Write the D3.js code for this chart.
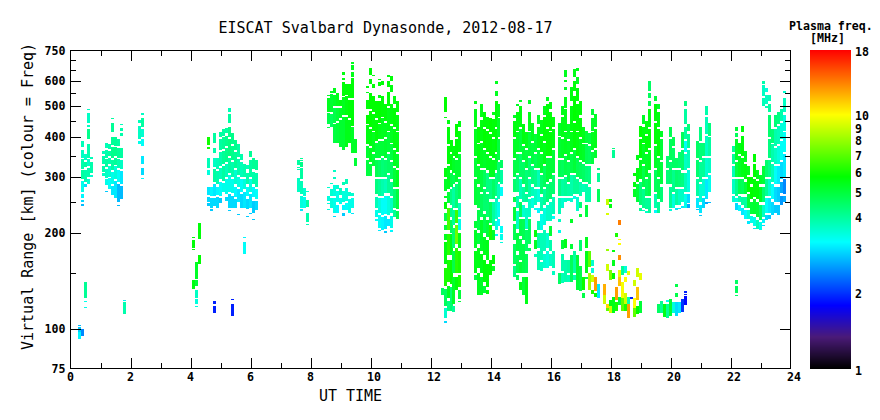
<!DOCTYPE html>
<html><head><meta charset="utf-8">
<script src="https://cdn.jsdelivr.net/npm/d3@7/dist/d3.min.js"></script>
<style>
html,body{margin:0;padding:0;background:#fff}
svg{display:block}
text{fill:#000;font-family:"DejaVu Sans Mono","Liberation Mono",monospace}
.tk{font-size:11.6px;font-weight:bold}
.lb{font-size:15px}
</style></head><body><svg id="c" width="880" height="420"></svg>
<script>
const chartTitle="EISCAT Svalbard Dynasonde, 2012-08-17";
const xLabel="UT TIME";
const yLabel="Virtual Range [km] (colour = Freq)";
const legendTitle=["Plasma freq.","[MHz]"];
const yMajor=[75,100,200,300,400,500,600,750];
const yMinor=[150,250,350,450,550,650,700];
const xMajor=[0,2,4,6,8,10,12,14,16,18,20,22,24];
const xMinor=[1,3,5,7,9,11,13,15,17,19,21,23];
const cbTicks=[1,2,3,4,5,6,7,8,9,10,18];
const cKnots=[1,1.33,1.77,3.15,4.2,5.7,10,18];
const cColors=["#000000","#4a1a78","#0000ff","#00ffff","#00ff80","#00ff00","#ffff00","#ff0000"];
// each column: hour, then triples (upper km, lower km, MHz)
const burstA=[
[0.3,103,102,2.7,101,98,2.8,98,93,3.1],
[0.4,390,372,3.7,365,345,3.6,342,318,3.8,316,296,3.9,292,270,3.3,265,258,3.1,254,250,2.9,246,243,2.7,100,95,2.4],
[0.5,355,340,3.6,335,322,3.9,316,290,3.8,286,280,2.9,140,125,4.0,122,121,3.3,117,116,3.3],
[0.6,490,486,3.6,478,445,3.6,437,430,3.6,425,395,4.1,380,345,3.8,342,325,3.6,320,300,3.8,296,286,3.5],
[0.7,347,343,3.7,334,308,3.8,305,301,3.5]];
const burstB=[
[1.1,362,355,3.7,350,330,3.8,326,312,3.8,309,303,3.6],
[1.2,385,370,3.7,365,345,3.8,342,322,3.9,318,298,3.6,295,283,3.3,271,269,2.8],
[1.3,380,368,3.8,362,350,3.9,345,330,3.8,326,300,3.5,298,276,3.2],
[1.4,460,456,3.9,445,415,4.0,400,378,4.0,372,345,4.1,340,315,3.9,312,285,3.3,282,263,3.0],
[1.5,400,376,4.0,372,350,4.1,345,328,4.0,325,296,3.4,292,258,3.0],
[1.6,395,375,3.9,370,345,4.0,342,320,3.8,316,290,3.2,286,250,2.7,245,243,2.7],
[1.7,440,436,3.7,428,420,3.8,412,404,3.8,370,345,3.9,340,318,3.6,314,285,3.0,282,256,2.7],
[1.8,123,122,3.1,121,111,3.8],
[2.3,453,445,3.7,435,395,3.6,390,380,3.3],
[2.4,478,470,3.6,460,430,3.9,425,400,3.5,395,375,3.2,350,330,3.0,320,305,2.9,297,296,3.1]];
const burstC=[
[4.1,195,193,5.6,190,180,5.6,178,177,5.6,142,133,5.5],
[4.2,162,143,5.2,142,136,5.0,132,125,3.6,124,120,3.4,118,117,3.4],
[4.3,215,192,5.6,170,160,5.7],
[4.6,400,378,5.9,374,368,5.9,345,320,3.7,315,304,3.4,280,263,3.0,260,250,2.9,248,243,2.8],
[4.7,280,262,3.1,258,240,2.9,238,235,2.8],
[4.8,412,385,3.9,370,358,3.8,345,322,3.6,318,290,3.9,285,262,3.0,258,243,2.9,122,120,1.9,118,112,1.9],
[4.9,345,318,3.7,314,285,3.8,280,264,3.1,260,240,2.9],
[5.0,416,400,3.9,395,365,3.9,360,325,3.8,320,296,3.7,290,262,3.2,258,248,2.8],
[5.1,425,405,3.9,400,368,4.0,362,330,4.0,326,292,3.9,288,270,3.3],
[5.2,428,412,3.9,405,375,4.1,370,335,4.1,330,300,3.7,296,265,3.3,260,252,2.9],
[5.3,495,480,3.7,475,445,3.9,430,400,4.1,396,350,4.2,345,310,3.9,305,270,3.3,265,240,2.9,236,234,2.8],
[5.4,412,380,4.1,376,340,4.1,335,300,3.8,296,268,3.3,262,240,2.9,124,123,1.9,120,110,1.9],
[5.5,392,365,4.1,360,320,4.0,316,285,3.5,280,260,3.1,255,240,2.9],
[5.6,380,348,3.9,342,305,3.8,300,280,3.4,275,250,3.0,230,228,2.8],
[5.7,355,340,3.8,335,300,3.7,295,270,3.2,265,240,2.9],
[5.8,330,300,3.8,296,275,3.4,270,240,3.0,195,194,3.1,188,187,3.1,186,172,3.2],
[5.9,328,318,3.7,310,285,3.8,280,262,3.2,255,238,2.9,226,224,2.8],
[6.0,362,346,4.0,340,300,3.9,296,270,3.4,265,240,3.0,232,230,2.8],
[6.1,345,318,4.0,312,285,3.8,280,260,3.1,252,232,2.8,222,220,2.8],
[6.2,340,315,4.0,310,280,3.8,275,256,3.2,252,236,2.9]];
const burstD=[
[7.6,340,327,3.9,322,321,3.8,318,316,3.7,298,270,3.6],
[7.7,345,344,4.0,340,338,4.0,334,322,4.1,320,295,3.9,292,265,3.7,262,240,3.4,238,235,3.0],
[7.8,278,262,3.5,260,240,3.3],
[7.9,272,271,3.6,254,242,3.9,232,217,3.8,214,213,3.7]];
const burstE=[
[8.6,545,540,5.2,530,480,5.3,476,440,4.8,432,428,4.7,280,278,3.5,262,252,3.4,248,247,3.4,238,236,3.4],
[8.7,560,552,5.3,548,480,5.1,475,432,4.6,288,285,3.6,276,262,3.5,258,240,3.4],
[8.8,570,550,5.4,545,500,5.2,495,445,4.8,440,385,4.9,315,312,3.6,300,296,3.6,284,262,3.4,258,232,3.3,226,224,2.9],
[8.9,552,500,5.4,495,450,5.0,445,385,5.0,284,276,3.5,272,250,3.3,245,232,3.1],
[9.0,525,500,5.5,495,460,5.2,455,372,5.1,278,264,3.6,258,246,3.3],
[9.1,640,630,5.5,615,605,5.4,595,540,5.6,535,470,5.3,465,364,5.1,290,284,3.7,272,250,3.4,245,236,3.1,232,226,2.8],
[9.2,590,545,5.6,540,470,5.5,465,372,5.4,295,285,3.7,278,252,3.4,248,236,3.2],
[9.3,590,530,5.6,525,460,5.6,455,384,5.4,270,262,3.5,256,232,3.3],
[9.4,690,680,5.3,675,650,5.3,640,620,5.4,615,530,5.6,525,435,5.6,430,357,5.2,268,262,3.5,258,240,3.3,232,231,3.0],
[9.5,395,357,5.2,345,325,5.0]];
const burstF=[
[9.9,578,572,5.5,555,550,5.4,523,490,5.6,470,440,5.7,436,380,5.5,375,345,5.1,340,303,4.9],
[10.0,660,630,5.6,610,590,5.6,550,490,5.7,485,430,5.7,425,375,5.5,370,335,5.3,330,303,4.9],
[10.1,630,625,5.5,590,570,5.6,540,480,5.7,475,420,5.6,415,360,5.3,355,325,5.0],
[10.2,520,460,5.7,455,390,5.6,385,345,5.0,340,300,4.7,296,265,4.2,260,240,3.7,236,225,3.3,222,218,3.2],
[10.3,610,608,5.5,595,580,5.6,545,530,5.5,520,445,5.7,440,395,5.4,390,345,5.0,340,300,4.5,296,262,4.0,258,232,3.4,228,207,3.2,205,203,3.0],
[10.4,600,585,5.6,540,465,5.6,460,395,5.3,390,350,5.0,345,300,4.3,296,262,3.8,258,228,3.2,224,204,3.1],
[10.5,510,450,5.6,445,400,5.3,395,345,5.1,340,300,4.4,295,268,3.7,262,230,3.2,226,206,3.0,203,200,2.8],
[10.6,630,620,5.5,600,575,5.6,555,500,5.6,495,420,5.4,415,360,5.0,355,310,4.5,305,268,4.0,262,228,3.4,222,210,3.0],
[10.7,625,600,5.6,585,555,5.5,510,440,5.5,435,385,5.3,380,340,4.9,335,295,4.6,290,262,4.1,258,232,3.6,226,208,3.3,204,202,3.1],
[10.8,540,510,5.5,495,430,5.6,425,370,5.5,365,325,5.3,320,280,5.0,275,240,4.4,236,225,4.0],
[10.9,520,480,5.6,470,420,5.5,415,360,5.5,355,320,5.2,315,280,5.3,275,238,4.9,235,222,4.7]];
const burstG=[
[12.4,134,128,4.6],
[12.5,535,480,5.7,465,462,5.5,320,300,5.5,295,272,5.2,262,258,5.3,250,238,5.6,232,218,4.8,212,204,5.0,198,190,5.3,188,160,5.5,155,136,6.0,133,118,4.6,116,108,3.5,106,104,2.9],
[12.6,455,440,5.5,430,380,5.6,375,330,5.6,325,275,5.3,270,248,5.0,240,205,6.6,198,170,6.2,165,140,6.0,136,125,5.3,122,114,4.2],
[12.7,392,360,5.6,355,315,5.5,310,280,4.8,275,245,4.2,240,225,4.2,220,200,4.6,198,170,5.4,165,138,5.8,135,114,4.4],
[12.8,375,350,5.5,345,310,5.2,305,285,4.7,280,240,3.9,236,212,4.0,208,180,4.4,176,150,4.8,145,120,5.2,118,113,4.0],
[12.9,440,400,5.7,395,345,5.6,340,290,5.1,285,240,4.3,236,215,6.5,212,185,7.2,180,150,6.2,145,132,5.6],
[13.0,450,430,5.5,420,360,5.5,355,300,5.1,296,255,4.6,248,225,3.7,222,205,3.3,200,180,5.4,175,150,6.0,148,135,6.0,132,124,5.0,122,121,5.0]];
const burstH=[
[13.5,520,508,5.4,490,430,5.4,425,350,5.3,345,300,5.0,295,245,5.0,218,208,5.0,204,180,5.2,175,150,5.4,148,142,4.9],
[13.6,430,385,5.6,380,330,5.5,325,285,5.1,280,240,4.9,236,205,4.8,200,185,4.9,180,155,5.4,150,128,5.3],
[13.7,510,465,5.4,455,390,5.5,385,320,5.3,315,270,4.9,265,225,4.6,220,175,5.2,172,150,5.4,146,128,5.2],
[13.8,480,430,5.6,425,370,5.7,365,320,5.2,315,280,4.6,275,235,4.4,230,200,4.8,195,170,5.3,165,140,5.6,136,130,5.0],
[13.9,465,425,5.6,420,360,5.6,355,315,5.3,310,270,4.2,265,225,4.4,220,195,5.0,190,165,5.4,160,135,5.6,132,129,5.6],
[14.0,460,415,5.7,410,350,5.6,345,300,5.3,295,255,4.2,250,215,4.6,212,190,6.0,165,148,5.6],
[14.1,480,470,5.4,458,400,5.6,395,345,5.5,340,300,5.3,295,255,4.5,250,210,3.9,205,190,5.2,170,160,5.6,158,152,5.2],
[14.2,600,590,5.3,560,540,5.3,520,430,5.6,425,360,5.6,355,315,5.2,310,262,4.2,258,222,3.6,218,205,3.4,198,196,3.2],
[14.3,510,465,5.4,460,400,5.2,395,340,4.9,335,290,4.4,285,255,3.7,250,225,3.3,222,210,3.1],
[14.4,340,320,4.5,315,285,3.9,280,262,3.2,210,200,3.2,198,190,3.3,188,186,3.4]];
const burstI=[
[14.8,470,460,5.2,450,400,5.5,395,345,5.2,340,300,4.8,295,270,4.4,260,250,4.8,242,218,5.0,214,190,4.7,185,160,4.6,158,145,4.2],
[14.9,510,500,5.2,480,420,5.5,415,360,5.2,355,310,4.8,305,270,4.2,262,240,3.8,235,206,3.6,200,175,4.9,170,150,4.7,148,142,4.6],
[15.0,525,515,5.2,500,430,5.5,425,360,5.0,355,300,4.5,295,255,3.7,250,225,4.6,222,196,4.8,192,165,4.8,162,150,5.0,140,132,5.4],
[15.1,440,380,5.5,375,340,5.0,335,285,4.5,280,250,3.9,245,225,3.5,222,190,4.7,185,150,4.8,146,128,5.0],
[15.2,415,370,5.4,365,320,4.9,315,270,4.3,265,250,4.0,240,206,3.6,204,176,4.5,172,150,4.7,146,120,5.4],
[15.3,525,510,5.2,480,420,5.4,415,350,5.0,345,300,4.4,295,260,3.9,255,225,3.6,222,185,4.6,180,175,4.6],
[15.4,445,390,5.3,385,330,4.9,325,285,4.2,280,262,3.7,258,240,3.4],
[15.5,410,360,5.0,355,320,4.7,315,280,4.1,275,245,3.6,240,236,3.2,204,195,5.6,190,178,5.2,172,168,3.7],
[15.6,470,440,5.2,432,370,5.3,365,320,4.9,315,280,3.7,275,250,3.4,240,232,3.1,218,205,3.8,200,180,3.9,175,153,3.8],
[15.7,455,410,5.4,405,360,5.5,355,310,5.1,305,265,4.4,260,235,3.8,230,205,3.3,200,165,3.7,162,152,3.6],
[15.8,500,470,5.4,465,390,5.6,385,330,5.4,325,280,4.6,275,245,4.0,240,212,3.4,205,176,3.7,172,155,3.5],
[15.9,535,520,5.3,510,430,5.6,425,350,5.6,345,290,5.0,285,250,4.3,245,218,3.6,200,180,3.5,176,155,3.4],
[16.0,515,490,5.5,480,420,5.6,415,350,5.6,345,295,5.0,290,255,4.4,250,218,3.6,210,196,5.0,190,175,3.8,172,158,3.6],
[16.1,465,430,5.5,425,370,5.5,365,310,5.0,305,265,4.4,260,230,3.7,226,222,3.2,175,155,3.7,152,148,3.6]];
const burstJ=[
[16.3,445,405,5.2,400,345,5.1,340,300,4.7,295,262,4.2,258,230,3.7,222,216,3.6,205,200,3.3,150,138,4.5],
[16.4,500,470,5.4,465,400,5.4,395,345,5.2,340,300,4.6,295,262,3.9,258,240,3.5,190,178,5.0,172,152,3.8,150,139,3.7],
[16.5,650,620,5.3,605,595,5.3,575,565,5.2,535,495,5.4,490,420,5.4,415,355,5.3,350,305,4.8,300,262,4.0,258,250,3.6,192,180,5.4,165,140,3.8],
[16.6,440,395,5.2,390,340,5.2,335,290,4.7,285,262,3.9,258,252,3.6,165,150,3.9,148,140,3.7],
[16.7,575,520,5.5,500,420,5.5,415,360,5.4,355,310,4.8,305,262,3.8,258,250,3.5,222,215,5.2,185,178,5.0,170,140,4.6],
[16.8,655,620,5.4,600,560,5.6,540,450,5.7,445,370,5.6,365,310,5.0,305,265,4.0,262,255,3.3,175,150,3.9,148,142,3.8],
[16.9,660,645,5.4,620,590,5.3,570,520,5.6,510,420,5.6,415,350,5.5,345,300,4.7,295,265,4.0,260,235,3.5,170,132,5.0],
[17.0,520,470,5.6,460,400,5.6,395,340,5.3,335,295,4.6,290,262,3.8,250,240,4.3,230,225,5.0,190,176,4.4,158,131,4.8],
[17.1,430,385,5.4,380,335,5.2,330,290,4.5,285,270,3.7,146,132,5.8,130,125,4.8],
[17.2,420,385,5.0,380,330,4.7,325,290,4.3,285,250,3.8,245,225,4.9,195,180,5.3,176,150,5.4,146,143,4.8],
[17.3,412,380,4.9,375,330,4.6,325,285,4.2,280,250,3.8,176,156,7.0,150,132,8.2],
[17.4,490,470,5.0,460,420,5.2,415,365,5.3,360,330,4.9,165,158,3.5,155,150,3.4,148,140,9.0,132,129,6.0],
[17.5,475,430,5.2,425,370,5.4,365,345,5.1,146,131,12.5,130,126,5.6],
[17.6,320,315,4.2,310,290,4.0,275,250,4.6,138,125,3.0]];
const burstK=[
[17.8,138,128,12.0,128,120,9.0],
[17.9,256,245,8.8,232,228,9.2,178,176,8.0,160,152,9.0,120,116,11.0,116,114,7.0],
[18.0,255,250,5.5,246,240,5.5,153,142,7.5,123,118,5.5,118,112,9.0],
[18.1,370,368,4.2,365,345,4.0,177,174,5.5,164,158,5.3,150,143,5.7,126,112,5.4],
[18.2,200,195,6.0,135,123,12.5,121,114,6.0],
[18.3,220,212,13.5,192,190,10.0,186,184,10.0,170,165,13.0,153,145,9.5,145,136,11.5,126,119,5.0],
[18.4,157,148,4.0,140,125,9.8,125,114,7.0],
[18.5,158,150,3.4,145,140,10.0,130,120,9.0,120,114,6.0],
[18.6,152,148,9.5,126,120,3.8,120,108,12.5],
[18.7,126,124,1.9],
[18.8,308,303,5.6,290,280,5.5,276,260,5.2,142,136,9.0,125,116,10.0,116,109,7.0],
[18.9,352,340,5.4,320,290,5.5,285,250,5.0,155,146,9.0,135,123,11.5,118,111,5.7],
[19.0,435,400,5.7,395,345,5.6,340,295,5.3,290,245,4.3,240,235,4.0,150,142,9.5,122,112,5.0]];
const burstL=[
[19.1,470,440,5.2,430,385,5.5,380,330,5.2,325,280,4.8,275,240,4.1,236,234,3.6],
[19.2,450,410,5.5,405,360,5.6,355,300,5.2,295,262,4.6,258,238,4.0,234,232,3.6],
[19.3,600,560,4.5,550,530,4.6,520,500,4.7,490,430,5.5,425,370,5.6,365,315,5.3,310,262,4.8,258,232,4.0],
[19.5,540,520,5.0,510,450,5.6,445,380,5.6,375,320,5.2,315,270,4.6,265,240,3.8,236,232,3.1],
[19.6,510,490,5.2,480,430,5.5,425,350,5.6,345,300,5.1,295,255,4.7,250,232,4.0,120,112,4.5],
[19.7,420,400,5.2,395,340,5.0,335,285,4.9,280,250,4.3,122,112,4.0],
[19.8,120,109,5.4],
[19.9,350,320,4.4,315,285,4.3,123,121,3.2,120,108,4.0],
[20.0,430,400,4.7,395,340,4.6,335,285,4.4,280,240,4.0,238,235,3.4,124,110,5.0],
[20.1,400,375,4.7,370,320,4.5,315,270,4.1,265,240,3.4,121,112,3.4],
[20.2,345,320,4.5,315,280,4.4,275,245,3.9,240,236,3.0,138,135,4.8,130,126,4.8,121,110,2.9],
[20.3,360,320,4.4,315,280,4.3,275,245,3.6,240,238,3.0,121,112,3.0],
[20.4,415,370,4.6,365,315,4.4,310,280,4.2,275,250,3.6,244,240,3.0,124,113,2.0],
[20.5,520,500,4.2,490,440,3.9,430,395,3.9,390,360,3.2,355,315,3.6,310,270,3.7,265,240,3.3,131,130,1.9,129,128,1.9,127,119,1.8],
[20.6,440,420,4.3,410,370,4.0,365,320,3.7,315,270,3.4,265,248,2.9,246,240,2.6]];
const burstM=[
[20.9,390,345,4.5,340,300,4.4,296,262,3.9,258,240,3.0,238,236,2.8],
[21.0,430,390,4.2,385,340,4.3,335,290,4.0,285,250,3.5,245,232,3.0,228,226,2.8],
[21.1,385,350,4.3,345,300,4.0,295,262,3.5,258,240,2.9],
[21.2,500,470,3.8,465,410,3.7,405,350,3.6,345,300,3.5,296,255,3.0,250,246,2.6],
[21.3,445,405,4.2,400,350,3.9,345,310,3.6,305,270,3.3,250,248,2.7]];
const burstN=[
[22.1,375,360,4.0,355,330,4.0,325,300,3.7,296,265,3.6,262,250,3.5],
[22.2,432,420,5.0,412,400,4.6,395,340,5.2,335,300,4.9,295,262,4.1,258,250,3.4,248,236,2.9,142,138,4.5,136,130,4.6,128,127,4.5],
[22.3,385,355,5.4,350,300,5.2,296,265,4.7,262,250,3.8,245,234,3.1],
[22.4,435,415,5.6,405,350,5.6,345,300,5.4,295,265,4.6,260,245,3.9,240,228,3.0],
[22.5,362,335,5.3,330,295,5.5,290,265,5.0,260,240,3.9,236,222,3.1],
[22.6,325,305,5.4,300,270,5.7,265,240,5.0,236,222,3.5,218,214,3.0],
[22.7,300,285,5.6,280,255,5.7,250,230,5.0,226,215,3.3],
[22.8,355,335,5.7,330,300,5.7,295,260,5.6,255,230,5.1,225,210,3.3,208,206,3.0],
[22.9,315,296,5.4,292,255,5.6,250,225,5.0,220,206,3.7],
[23.0,305,285,5.2,280,250,5.3,245,220,4.5,216,205,3.3],
[23.1,600,590,3.8,585,540,3.6,530,500,3.7,325,285,5.0,280,250,4.4,245,225,3.6,222,215,3.1,212,210,2.9],
[23.2,570,555,3.4,545,510,3.6,500,495,3.7,340,300,4.4,295,262,4.0,258,232,3.2,228,220,2.9],
[23.3,545,520,3.7,510,480,3.9,470,400,4.4,395,345,4.2,340,300,4.1,295,262,3.5,258,232,3.0,228,222,2.8],
[23.4,425,385,4.3,380,335,3.8,330,290,3.7,285,255,3.2,250,228,2.9],
[23.5,470,430,4.3,425,375,3.8,370,330,3.6,325,285,3.2,280,250,2.9,245,232,2.8],
[23.6,480,440,4.2,435,380,3.7,375,330,3.4,325,285,3.0,280,250,2.8,245,228,2.8],
[23.7,490,450,3.8,445,395,3.4,390,340,3.2,335,295,2.9,290,268,2.6,262,245,2.5],
[23.8,558,550,3.5,530,480,3.6,470,420,3.4,415,360,3.2,355,300,3.0,296,265,2.4,262,250,2.6]];
const bursts=[burstA,burstB,burstC,burstD,burstE,burstF,burstG,burstH,burstI,burstJ,burstK,burstL,burstM,burstN];

const svg=d3.select("#c");
const P={l:70.5,r:790.5,t:50.5,b:368.5};
const x=d3.scaleLinear().domain([0,24]).range([P.l,P.r]);
const y=d3.scaleLog().domain([75,750]).range([P.b,P.t]);
const col=d3.scaleLog().domain(cKnots).range(cColors).clamp(true);

const cells=[];
bursts.forEach(b=>b.forEach(c=>{for(let i=1;i<c.length;i+=3)cells.push({t:c[0],top:c[i],bot:c[i+1],f:c[i+2]});}));
svg.append("g").attr("shape-rendering","crispEdges").selectAll("rect").data(cells).join("rect")
 .attr("x",d=>Math.round(x(d.t)-2))
 .attr("width",3)
 .attr("y",d=>Math.round(y(d.top)))
 .attr("height",d=>Math.max(1,Math.round(y(d.bot))-Math.round(y(d.top))))
 .attr("fill",d=>col(d.f));

// axes (ticks point inward, on all four sides); end ticks coincide with the frame
function ticks(gen,vals,len,tr){
 const g=svg.append("g").attr("transform",tr).attr("shape-rendering","crispEdges")
  .call(gen.tickValues(vals).tickSize(-len).tickFormat("").tickSizeOuter(0));
 g.selectAll("path").remove();
 g.selectAll("line").attr("stroke","#000");
}
const xIn=xMajor.slice(1,-1), yIn=yMajor.slice(1,-1);
ticks(d3.axisBottom(x),xIn,10.5,`translate(0,${P.b})`);
ticks(d3.axisBottom(x),xMinor,5.5,`translate(0,${P.b})`);
ticks(d3.axisTop(x),xIn,10.5,`translate(0,${P.t})`);
ticks(d3.axisTop(x),xMinor,5.5,`translate(0,${P.t})`);
ticks(d3.axisLeft(y),yIn,10.5,`translate(${P.l},0)`);
ticks(d3.axisLeft(y),yMinor,5.5,`translate(${P.l},0)`);
ticks(d3.axisRight(y),yIn,10.5,`translate(${P.r},0)`);
ticks(d3.axisRight(y),yMinor,5.5,`translate(${P.r},0)`);
svg.append("rect").attr("x",P.l).attr("y",P.t).attr("width",P.r-P.l).attr("height",P.b-P.t)
 .attr("fill","none").attr("stroke","#000").attr("shape-rendering","crispEdges");

svg.append("g").selectAll("text").data(xMajor).join("text").attr("class","tk")
 .attr("x",d=>x(d)-3.5).attr("y",381).text(d=>d);
svg.append("g").selectAll("text").data(yMajor).join("text").attr("class","tk")
 .attr("text-anchor","end").attr("x",65.5).attr("y",d=>y(d)+4).text(d=>d);

svg.append("text").attr("class","lb").attr("x",385.5).attr("y",33).attr("text-anchor","middle").text(chartTitle);
svg.append("text").attr("class","lb").attr("x",350.5).attr("y",401).attr("text-anchor","middle").text(xLabel);
svg.append("text").attr("class","lb").attr("text-anchor","middle")
 .attr("transform","translate(33,196.5) rotate(-90)").text(yLabel);

// colour bar
const cb=d3.scaleLog().domain([1,18]).range([368.5,50]);
svg.append("g").attr("shape-rendering","crispEdges").selectAll("rect").data(d3.range(50,369)).join("rect")
 .attr("x",810).attr("width",41).attr("y",d=>d).attr("height",1).attr("fill",d=>col(cb.invert(d+.5)));
svg.append("g").selectAll("text").data(cbTicks).join("text").attr("class","tk")
 .attr("x",855).attr("y",d=>cb(d)+6+(d===10?-1:d===9?0.6:0)).text(d=>d);
svg.append("text").attr("class","tk").attr("x",789).attr("y",30).text(legendTitle[0]);
svg.append("text").attr("class","tk").attr("x",810).attr("y",42).text(legendTitle[1]);
</script></body></html>
